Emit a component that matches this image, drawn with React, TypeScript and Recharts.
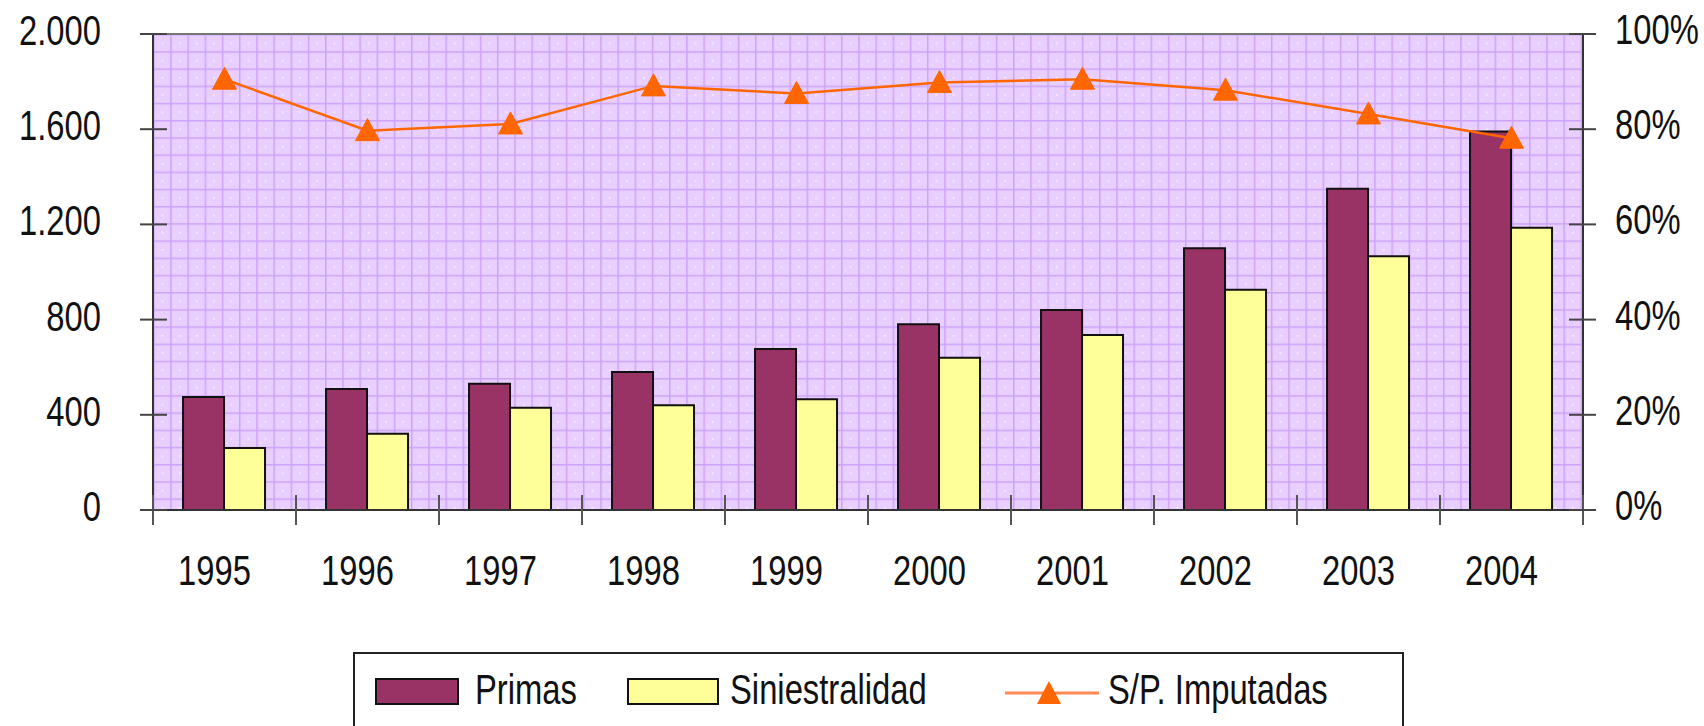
import React from 'react';
import {
  ComposedChart,
  Bar,
  Line,
  XAxis,
  YAxis,
  CartesianGrid,
  Legend,
  ReferenceLine,
} from 'recharts';

const years = ['1995', '1996', '1997', '1998', '1999', '2000', '2001', '2002', '2003', '2004'];
const primas = [475, 508, 530, 580, 676, 780, 840, 1100, 1350, 1590];
const siniestralidad = [260, 320, 430, 440, 465, 640, 735, 925, 1066, 1186];
const spImputadas = [90.5, 79.7, 81.1, 89.1, 87.5, 89.8, 90.5, 88.2, 83.2, 78.1];
const leftTicks = [0, 400, 800, 1200, 1600, 2000];
const rightTicks = [0, 20, 40, 60, 80, 100];
const seriesNames = ['Primas', 'Siniestralidad', 'S/P. Imputadas'];

const data = years.map((year, i) => ({
  year,
  primas: primas[i],
  siniestralidad: siniestralidad[i],
  sp: spImputadas[i],
}));

const FONT = "'Liberation Sans', Arial, sans-serif";
const FS = 42;
const SX = 0.78;

const fmtThousands = (n: number) =>
  n >= 1000 ? `${Math.floor(n / 1000)}.${String(n % 1000).padStart(3, '0')}` : String(n);

const NarrowText = ({ x, y, anchor, children }: any) => (
  <text
    transform={`translate(${x},${y}) scale(${SX},1)`}
    x={0}
    y={0}
    textAnchor={anchor}
    fontFamily={FONT}
    fontSize={FS}
    fill="#111"
  >
    {children}
  </text>
);

const LeftTick = (props: any) => {
  const { x, y, payload } = props;
  return (
    <g>
      <line x1={x - 13} x2={x + 14} y1={y} y2={y} stroke="#444" strokeWidth={2} />
      <NarrowText x={x - 52} y={y + 11} anchor="end">
        {fmtThousands(payload.value)}
      </NarrowText>
    </g>
  );
};

const RightTick = (props: any) => {
  const { x, y, payload } = props;
  return (
    <g>
      <line x1={x - 14} x2={x + 13} y1={y} y2={y} stroke="#444" strokeWidth={2} />
      <NarrowText x={x + 32} y={y + 10} anchor="start">
        {`${payload.value}%`}
      </NarrowText>
    </g>
  );
};

const CategoryTick = (props: any) => {
  const { x, y, payload } = props;
  const half = payload && typeof payload.offset === 'number' && payload.offset > 0 ? payload.offset : 71.5;
  const isLast = payload.value === years[years.length - 1];
  return (
    <g>
      <line x1={x - half} x2={x - half} y1={y - 15} y2={y + 15} stroke="#555" strokeWidth={2} />
      {isLast && (
        <line x1={x + half} x2={x + half} y1={y - 15} y2={y + 15} stroke="#555" strokeWidth={2} />
      )}
      <NarrowText x={x - 10} y={y + 75} anchor="middle">
        {payload.value}
      </NarrowText>
    </g>
  );
};

const TriangleDot = (props: any) => {
  const { cx, cy, index } = props;
  if (cx == null || cy == null) return <g key={`d-${index}`} />;
  return (
    <path
      key={`d-${index}`}
      d={`M${cx},${cy - 12} L${cx + 12},${cy + 10} L${cx - 12},${cy + 10} Z`}
      fill="#FF6600"
      stroke="#FF6600"
      strokeWidth={1}
    />
  );
};

// horizontal slots of the legend items inside the legend box
const legendIconLeft = [20, 272, 650];
const legendIconWidth = [84, 92, 94];
const legendTextLeft = [120, 375, 753];

const LegendContent = (props: any) => {
  const payload: any[] = [...(props.payload || [])].sort(
    (a, b) => seriesNames.indexOf(a.value) - seriesNames.indexOf(b.value)
  );
  return (
    <div
      style={{
        boxSizing: 'border-box',
        position: 'relative',
        width: 1051,
        height: 110,
        border: '2px solid #222',
        background: '#fff',
        fontFamily: FONT,
        fontSize: FS,
        color: '#111',
      }}
    >
      {payload.map((entry, i) => (
        <React.Fragment key={`li-${i}`}>
          {entry.type === 'triangle' ? (
            <svg
              width={legendIconWidth[i]}
              height={32}
              style={{ position: 'absolute', left: legendIconLeft[i], top: 22 }}
            >
              <line x1={0} x2={legendIconWidth[i]} y1={17} y2={17} stroke="#FF8855" strokeWidth={3} />
              <path d="M44,5 L56,28 L32,28 Z" fill="#FF6600" />
            </svg>
          ) : (
            <div
              style={{
                position: 'absolute',
                left: legendIconLeft[i],
                top: 24,
                boxSizing: 'border-box',
                width: legendIconWidth[i],
                height: 27,
                background: entry.color,
                border: '2px solid #111',
              }}
            />
          )}
          <span
            style={{
              position: 'absolute',
              left: legendTextLeft[i],
              top: 13,
              lineHeight: '46px',
              whiteSpace: 'nowrap',
              transform: `scale(${SX},1)`,
              transformOrigin: 'left center',
            }}
          >
            {entry.value}
          </span>
        </React.Fragment>
      ))}
    </div>
  );
};

export default function App() {
  return (
    <div style={{ width: 1704, height: 726, position: 'relative', background: '#fff' }}>
      <style>{'body{margin:0;background:#fff;}'}</style>
      <ComposedChart
        width={1704}
        height={726}
        data={data}
        margin={{ top: 34, right: 0, left: 0, bottom: 0 }}
        barCategoryGap="21%"
        barGap={0}
      >
        <defs>
          <pattern id="bgPattern" x={153} y={34} width={17.2} height={17.2} patternUnits="userSpaceOnUse">
            <rect x={0} y={0} width={17.2} height={17.2} fill="#E8CFFF" />
            <line x1={0.75} x2={0.75} y1={0} y2={17.2} stroke="#CFA3FA" strokeWidth={1.5} />
            <line x1={0} x2={17.2} y1={0.75} y2={0.75} stroke="#CFA3FA" strokeWidth={1.5} />
            <circle cx={9.4} cy={9.4} r={0.9} fill="#FFFFFF" fillOpacity={0.85} />
            <circle cx={4.5} cy={13.5} r={0.6} fill="#FFFFFF" fillOpacity={0.6} />
          </pattern>
        </defs>
        <CartesianGrid horizontal={false} vertical={false} fill="url(#bgPattern)" fillOpacity={1} />
        <XAxis
          dataKey="year"
          xAxisId="cat"
          height={216}
          tickSize={0}
          tickMargin={0}
          tickLine={false}
          axisLine={{ stroke: '#333', strokeWidth: 2 }}
          tick={<CategoryTick />}
          interval={0}
        />
        <YAxis
          yAxisId="left"
          orientation="left"
          width={153}
          domain={[0, 2000]}
          ticks={leftTicks}
          tickSize={0}
          tickMargin={0}
          tickLine={false}
          axisLine={{ stroke: '#333', strokeWidth: 2 }}
          tick={<LeftTick />}
          interval={0}
        />
        <YAxis
          yAxisId="right"
          orientation="right"
          width={121}
          domain={[0, 100]}
          ticks={rightTicks}
          tickSize={0}
          tickMargin={0}
          tickLine={false}
          axisLine={{ stroke: '#333', strokeWidth: 2 }}
          tick={<RightTick />}
          interval={0}
        />
        <ReferenceLine yAxisId="left" xAxisId="cat" y={2000} stroke="#777" strokeWidth={2} />
        <Bar
          xAxisId="cat"
          yAxisId="left"
          dataKey="primas"
          name={seriesNames[0]}
          fill="#993366"
          stroke="#111"
          strokeWidth={2}
          legendType="rect"
          isAnimationActive={false}
        />
        <Bar
          xAxisId="cat"
          yAxisId="left"
          dataKey="siniestralidad"
          name={seriesNames[1]}
          fill="#FFFF99"
          stroke="#111"
          strokeWidth={2}
          legendType="rect"
          isAnimationActive={false}
        />
        <Line
          xAxisId="cat"
          yAxisId="right"
          dataKey="sp"
          name={seriesNames[2]}
          stroke="#FF6600"
          strokeWidth={2.5}
          dot={TriangleDot}
          activeDot={false}
          legendType="triangle"
          isAnimationActive={false}
        />
        <Legend
          layout="horizontal"
          verticalAlign="middle"
          align="center"
          wrapperStyle={{ top: 652, left: 353, width: 1051, height: 110 }}
          content={<LegendContent />}
        />
      </ComposedChart>
    </div>
  );
}
